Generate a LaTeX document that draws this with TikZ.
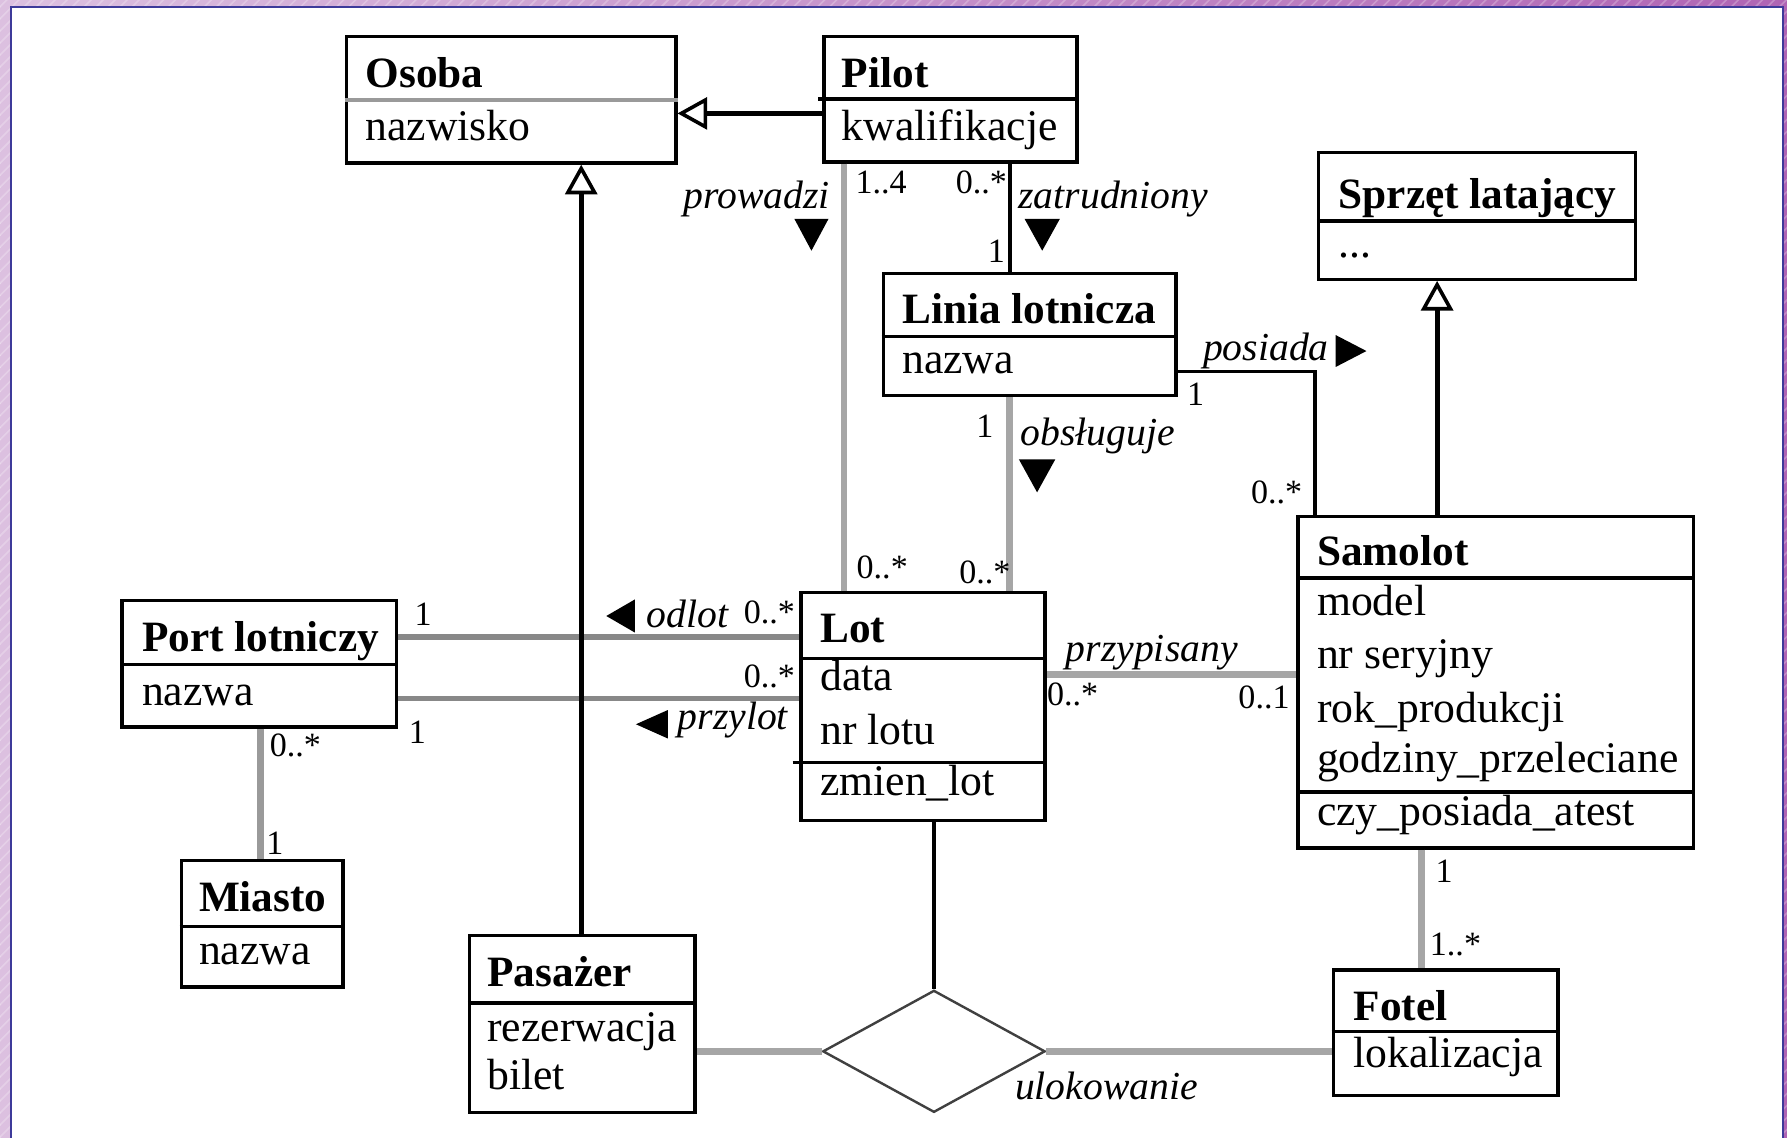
\documentclass[tikz,border=0pt]{standalone}
\usepackage{fontspec}
\setmainfont{Liberation Serif}
\usetikzlibrary{fit,shapes.geometric,arrows.meta,patterns}

\definecolor{bgleft}{HTML}{DCC0E0}
\definecolor{bgright}{HTML}{B064B4}
\definecolor{framecol}{HTML}{3E3A9A}
\definecolor{assocgray}{HTML}{A6A6A6}
\definecolor{portgray}{HTML}{888888}
\definecolor{softdiv}{HTML}{9A9A9A}

\tikzset{
  cls/.style={draw=black, line width=0.85pt, inner sep=0pt, fill=white},
  divline/.style={black, line width=0.85pt},
  ttl/.style={anchor=base west, inner sep=0pt, font=\fontsize{10.8}{13}\selectfont\bfseries},
  attr/.style={anchor=base west, inner sep=0pt, font=\fontsize{10.9}{13}\selectfont},
  mult/.style={anchor=base west, inner sep=0pt, font=\fontsize{8.5}{10}\selectfont},
  role/.style={anchor=base west, inner sep=0pt, font=\fontsize{9.9}{12}\selectfont\itshape},
  assoc/.style={assocgray, line width=1.7pt},
  portassoc/.style={portgray, line width=1.3pt},
  link/.style={black, line width=1.1pt},
  gen/.style={black, line width=1.2pt,
    -{Triangle[open, length=0.26cm, width=0.28cm, line width=0.9pt]}},
  dirmark/.style={fill=black},
}

% class box spanning two corners
\newcommand{\classbox}[5]{\node[cls, fit={(#2,#3) (#4,#5)}] (#1) {};}
% horizontal compartment divider of a class box
\newcommand{\compline}[2]{\draw[divline] (#1.west |- 0,#2) -- (#1.east |- 0,#2);}

\begin{document}
\begin{tikzpicture}[x=0.01cm, y=-0.01cm]
\useasboundingbox (0,0) rectangle (1568,997.7);

% slide background and white sheet (the sheet runs off the bottom edge)
\fill[left color=bgleft, right color=bgright] (0,0) rectangle (1568,997.7);
\fill[pattern=north east lines, pattern color=white, opacity=0.25] (0,0) rectangle (1568,997.7);
\fill[white] (9.5,6) rectangle (1564.5,1010);
\draw[framecol, line width=0.6pt] (9.5,1010) -- (9.5,6) -- (1564.5,6) -- (1564.5,1010);

% ---- classes ----
\classbox{osoba}{304}{32}{593}{143}
\classbox{pilot}{723}{32}{945}{142}
\classbox{sprzet}{1157}{134}{1435}{245}
\classbox{linia}{775}{240}{1032}{347}
\classbox{port}{107}{527}{348}{638}
\classbox{miasto}{159}{755}{301}{866}
\classbox{pasazer}{412}{821}{610}{976}
\classbox{lot}{703}{520}{917}{720}
\classbox{samolot}{1139}{453}{1486}{744}
\classbox{fotel}{1170}{851}{1367}{961}
\node[draw=black!75, line width=0.6pt, diamond, minimum width=1.95cm,
      minimum height=1.07cm, inner sep=0pt, fill=white] (ulok) at (819.5,922.5) {};

% ---- associations (grey) ----
\draw[assoc] (pilot.south -| 740.5,0) -- (lot.north -| 740.5,0);
\draw[assoc] (linia.south -| 886,0) -- (lot.north -| 886,0);
\draw[portassoc] (port.east |- 0,559) -- (lot.west |- 0,559);
\draw[portassoc] (port.east |- 0,613) -- (lot.west |- 0,613);
\draw[assoc, line width=1.6pt, draw=portgray!85] (port.south -| 228.5,0) -- (miasto.north -| 228.5,0);
\draw[assoc] (lot.east |- 0,592) -- (samolot.west |- 0,592);
\draw[assoc] (samolot.south -| 1247,0) -- (fotel.north -| 1247,0);
\draw[assoc] (pasazer.east |- ulok.west) -- (ulok.west);
\draw[assoc] (ulok.east) -- (fotel.west |- ulok.east);

% ---- associations and generalisations (black) ----
\draw[link] (pilot.south -| 886,0) -- (linia.north -| 886,0);
\draw[link, line width=0.9pt] (linia.east |- 0,326) -| (samolot.north -| 1154,0);
\draw[link, line width=1pt] (lot.south -| ulok.north) -- (ulok.north);
\draw[gen] (pilot.west |- 0,99.5) -- (osoba.east |- 0,99.5);
\draw[gen] (pasazer.north -| 510,0) -- (osoba.south -| 510,0);
\draw[gen] (samolot.north -| 1261,0) -- (sprzet.south -| 1261,0);

% ---- compartments ----
\draw[softdiv, line width=1.1pt] (osoba.west |- 0,88) -- (osoba.east |- 0,88);
\draw[divline] (718,87) -- (pilot.east |- 0,87);
\compline{sprzet}{194}
\compline{linia}{295}
\compline{port}{583}
\compline{miasto}{813}
\compline{pasazer}{880}
\compline{lot}{578}
\draw[divline] ([xshift=-0.06cm]lot.west |- 0,669) -- (lot.east |- 0,669);
\compline{samolot}{507}
\compline{samolot}{695}
\compline{fotel}{905}

% ---- class names and members ----
\node[ttl] (osoba-n) at (320,77) {Osoba};
\node[attr] (osoba-a1) at (320,123) {nazwisko};
\node[ttl] (pilot-n) at (738,77) {Pilot};
\node[attr] (pilot-a1) at (738,123) {kwalifikacje};
\node[ttl] (sprzet-n) at (1174,183) {Sprzęt latający};
\node[attr] (sprzet-a1) at (1174,226) {...};
\node[ttl] (linia-n) at (791,284) {Linia lotnicza};
\node[attr] (linia-a1) at (791,328) {nazwa};
\node[ttl] (port-n) at (124,572) {Port lotniczy};
\node[attr] (port-a1) at (124,619) {nazwa};
\node[ttl] (miasto-n) at (174,800) {Miasto};
\node[attr] (miasto-a1) at (174,846) {nazwa};
\node[ttl] (pasazer-n) at (427,866) {Pasażer};
\node[attr] (pasazer-a1) at (427,914) {rezerwacja};
\node[attr] (pasazer-a2) at (427,956) {bilet};
\node[ttl] (lot-n) at (719,564) {Lot};
\node[attr] (lot-a1) at (719,606) {data};
\node[attr] (lot-a2) at (719,653) {nr lotu};
\node[attr] (lot-o1) at (719,698) {zmien\_lot};
\node[ttl] (samolot-n) at (1155,496) {Samolot};
\node[attr] (samolot-a1) at (1155,540) {model};
\node[attr] (samolot-a2) at (1155,587) {nr seryjny};
\node[attr] (samolot-a3) at (1155,634) {rok\_produkcji};
\node[attr] (samolot-a4) at (1155,678) {godziny\_przeleciane};
\node[attr] (samolot-o1) at (1155,724) {czy\_posiada\_atest};
\node[ttl] (fotel-n) at (1187,895) {Fotel};
\node[attr] (fotel-a1) at (1187,937) {lokalizacja};

% ---- multiplicities ----
\node[mult] (m-pl1) at (750,170) {1..4};
\node[mult] (m-pz1) at (838,170) {0..*};
\node[mult] (m-pz2) at (866,230) {1};
\node[mult] (m-lo1) at (856,384) {1};
\node[mult] (m-pl2) at (751,508) {0..*};
\node[mult] (m-lo2) at (841,512) {0..*};
\node[mult] (m-ps1) at (1041,356) {1};
\node[mult] (m-ps2) at (1097,442) {0..*};
\node[mult] (m-od1) at (363,549) {1};
\node[mult] (m-od2) at (652,547) {0..*};
\node[mult] (m-pr2) at (652,603) {0..*};
\node[mult] (m-pr1) at (358,652) {1};
\node[mult] (m-mi1) at (236,664) {0..*};
\node[mult] (m-mi2) at (233,750) {1};
\node[mult] (m-pp1) at (918,619) {0..*};
\node[mult] (m-pp2) at (1086,622) {0..1};
\node[mult] (m-fo1) at (1259,774) {1};
\node[mult] (m-fo2) at (1254,838) {1..*};

% ---- association names ----
\node[role] (r-prowadzi) at (599,183) {prowadzi};
\node[role] (r-zatrudniony) at (893,183) {zatrudniony};
\node[role] (r-obsluguje) at (895,391) {obsługuje};
\node[role] (r-posiada) at (1055,316.5) {posiada};
\node[role] (r-odlot) at (567,551) {odlot};
\node[role] (r-przylot) at (594,640) {przylot};
\node[role] (r-przypisany) at (934.5,580) {przypisany};
\node[role] (r-ulokowanie) at (890,965) {ulokowanie};

% ---- reading-direction marks ----
\fill[dirmark] (697,192) -- (727,192) -- (712,220) -- cycle;
\fill[dirmark] (899,192) -- (930,192) -- (914.5,220) -- cycle;
\fill[dirmark] (894,403) -- (926,403) -- (910,432) -- cycle;
\fill[dirmark] (1172,294) -- (1172,322) -- (1199,308) -- cycle;
\fill[dirmark] (557,526) -- (557,555) -- (532,540.5) -- cycle;
\fill[dirmark] (586,623) -- (586,648) -- (558,635.5) -- cycle;
\end{tikzpicture}
\end{document}
